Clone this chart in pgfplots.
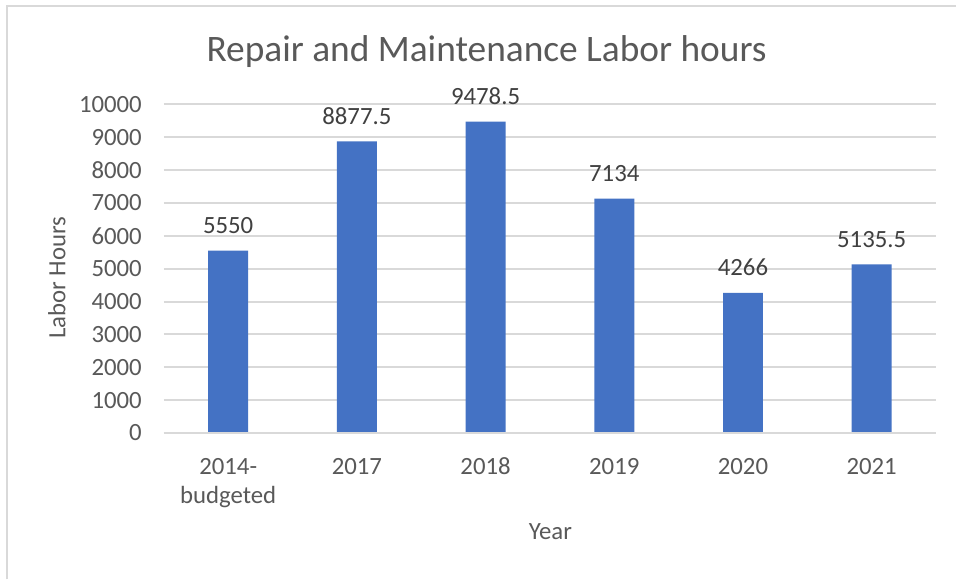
\documentclass[border=0pt]{standalone}
\usepackage{pgfplots}
\pgfplotsset{compat=1.18}
\usepackage{fontspec}
\setmainfont{Carlito}
\definecolor{barblue}{HTML}{4472C4}
\definecolor{gridgray}{HTML}{D9D9D9}
\definecolor{txtgray}{HTML}{595959}
\definecolor{lblgray}{HTML}{404040}
\begin{document}
\begin{tikzpicture}[x=0.5pt,y=0.5pt]
\fill[white] (0,0) rectangle (957,580);
\draw[gridgray,line width=1pt] (7,0) -- (7,574) -- (957,574);
\begin{axis}[
  at={(82pt,73.25pt)}, anchor=south west,
  scale only axis, width=386.5pt, height=164.5pt,
  ymin=0, ymax=10000, xmin=-0.5, xmax=5.5,
  ytick={0,1000,...,10000},
  scaled y ticks=false,
  xtick=data,
  xticklabels={{\strut 2014-\\budgeted},{\strut 2017},{\strut 2018},{\strut 2019},{\strut 2020},{\strut 2021}},
  x tick label style={align=center, anchor=north, font=\fontsize{12.4}{14.5}\selectfont, text=txtgray, yshift=-7pt},
  y tick label style={font=\fontsize{12.4}{14}\selectfont, text=txtgray, xshift=-7.5pt},
  /pgf/number format/assume math mode=true,
  /pgf/number format/1000 sep={},
  ymajorgrids, grid style={gridgray, line width=1pt},
  axis line style={draw=none},
  major tick length=0pt,
  ybar, bar width=20pt,
  title={Repair and Maintenance Labor hours},
  title style={at={(axis description cs:0.418,1.166)}, anchor=center, yshift=-7pt, font=\fontsize{18.7}{22}\selectfont, text=txtgray},
  xlabel={Year}, ylabel={Labor Hours},
  xlabel style={at={(axis description cs:0.5006,-0.299)}, anchor=center, yshift=0pt, font=\fontsize{12.4}{14}\selectfont, text=txtgray},
  ylabel style={at={(axis description cs:-0.1384,0.4726)}, anchor=center, xshift=0pt, yshift=0pt, font=\fontsize{12.4}{14}\selectfont, text=txtgray},
  nodes near coords,
  nodes near coords style={font=\fontsize{12.4}{14}\selectfont, text=lblgray, yshift=5pt, /pgf/number format/assume math mode=true, /pgf/number format/1000 sep={}, /pgf/number format/precision=1},
  clip=false,
]
\addplot[fill=barblue, draw=none] coordinates {(0,5550) (1,8877.5) (2,9478.5) (3,7134) (4,4266) (5,5135.5)};
\draw[gridgray, line width=1pt] (axis cs:-0.5,0) -- (axis cs:5.5,0);
\end{axis}
\end{tikzpicture}
\end{document}
